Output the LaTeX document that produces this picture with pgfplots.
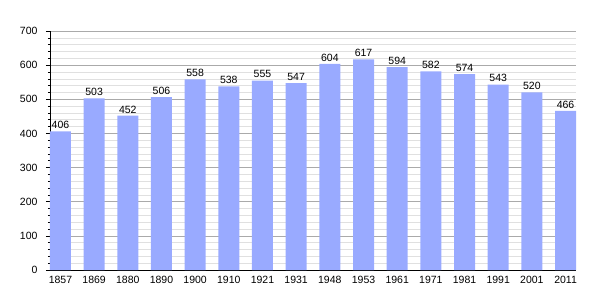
\documentclass[border=0pt]{standalone}
\usepackage{pgfplots}
\pgfplotsset{compat=1.18}
\usepackage{fontspec}
\setmainfont{Liberation Sans}
\definecolor{barc}{RGB}{153,170,255}
\definecolor{majg}{RGB}{170,170,170}
\definecolor{ming}{RGB}{224,224,224}
\begin{document}
\begin{tikzpicture}
\path[use as bounding box] (-50pt,-30pt) rectangle (555pt,270pt);
\begin{axis}[
  at={(0,0)}, anchor=south west,
  scale only axis, width=526pt, height=239pt,
  xmin=-0.31, xmax=15.31, ymin=0, ymax=700,
  axis x line*=bottom, axis y line*=left,
  axis line style={black, line width=0.9pt},
  xtick={0,...,15},
  xticklabels={1857,1869,1880,1890,1900,1910,1921,1931,1948,1953,1961,1971,1981,1991,2001,2011},
  xtick style={draw=none},
  ytick={0,100,...,700},
  minor y tick num=4,
  ymajorgrids, yminorgrids,
  major grid style={majg, line width=0.6pt},
  minor grid style={ming, line width=0.6pt},
  tick align=outside,
  major tick length=4pt, minor tick length=2pt,
  ytick style={black, line width=0.6pt},
  minor tick style={black, line width=0.5pt},
  tick label style={font=\fontsize{10.5}{12}\selectfont},
  /pgf/number format/assume math mode=true,
  yticklabel style={xshift=-5pt},
  xticklabel style={yshift=1pt},
  nodes near coords,
  nodes near coords style={font=\fontsize{10.5}{12}\selectfont, yshift=-1pt},
  axis on top=false,
]
\addplot[ybar, bar width=21pt, fill=barc, draw=none] coordinates {
(0,406) (1,503) (2,452) (3,506) (4,558) (5,538) (6,555) (7,547)
(8,604) (9,617) (10,594) (11,582) (12,574) (13,543) (14,520) (15,466)};
\end{axis}
\end{tikzpicture}
\end{document}
